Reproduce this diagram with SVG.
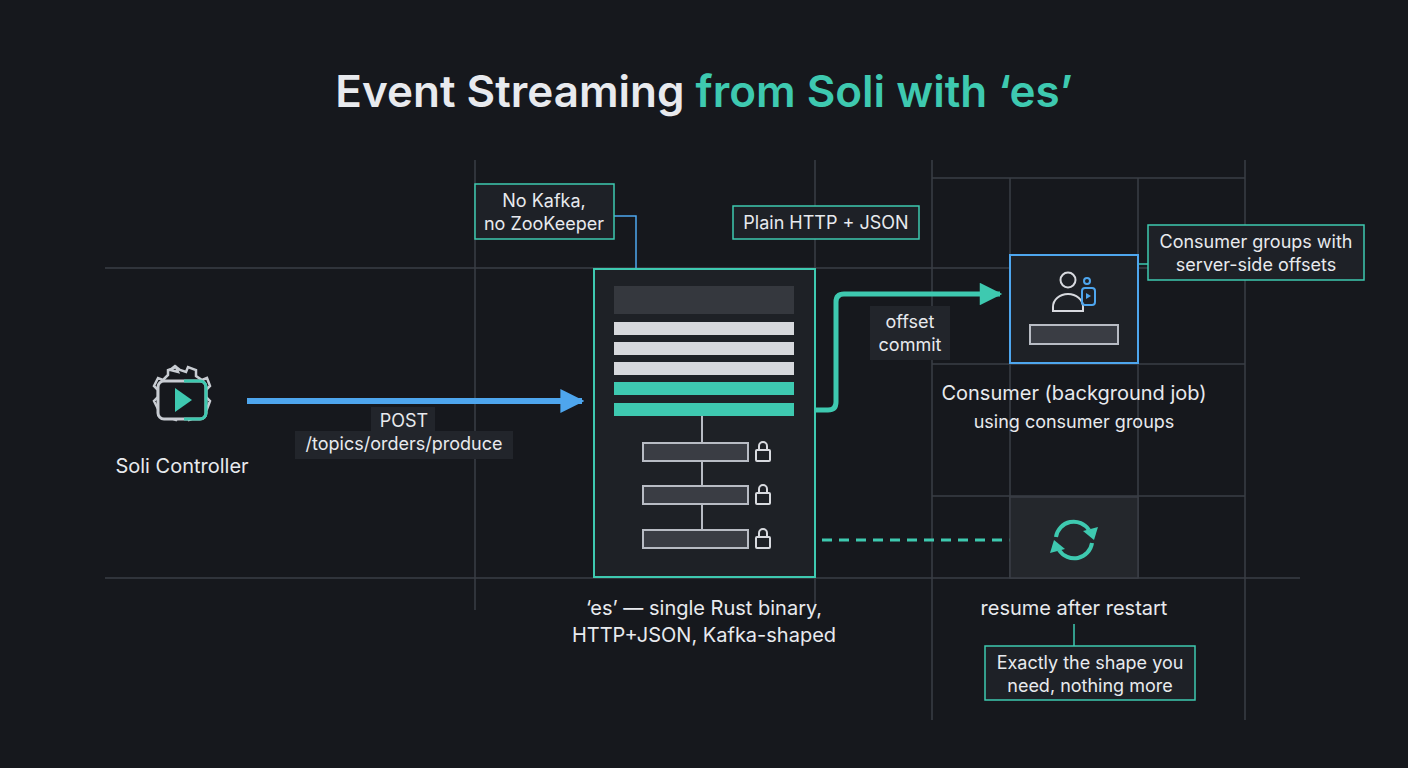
<svg xmlns="http://www.w3.org/2000/svg" width="1408" height="768" viewBox="0 0 1408 768">
<defs>
<style>
text{font-family:Inter,"Noto Sans","Liberation Sans",sans-serif;fill:#e8eaee}
.grid{stroke:#3a3e46;stroke-width:1.5;fill:none}
.lbl{fill:#1e2127;stroke:#3ec9b0;stroke-width:1.5}
.bar{fill:#3a3d44;stroke:#b8bcc4;stroke-width:2}
.lock{fill:none;stroke:#d8dadf;stroke-width:2}
</style>
<marker id="ab" viewBox="0 0 10 10" refX="9" refY="5" markerWidth="4" markerHeight="4" orient="auto" markerUnits="strokeWidth"><path d="M0,0L10,5L0,10z" fill="#4ea6ee"/></marker>
<marker id="at" viewBox="0 0 10 10" refX="9" refY="5" markerWidth="5" markerHeight="4.5" orient="auto" markerUnits="strokeWidth"><path d="M0,0L10,5L0,10z" fill="#3ec9b0"/></marker>
</defs>
<rect width="1408" height="768" fill="#16181d"/>
<g id="grid">
<path class="grid" d="M105 268H1300M105 578H1300M932 178H1245M932 364H1245M932 496H1245M475 160V610M815 160V610M932 160V720M1010 178V578M1138 178V578M1245 160V720"/>
</g>
<text x="704" y="107" text-anchor="middle" font-size="44" font-weight="600"><tspan>Event Streaming </tspan><tspan fill="#3ec9b0" style="fill:#3ec9b0">from Soli with ‘es’</tspan></text>
<g id="connectors">
<line x1="247" y1="401" x2="582" y2="401" stroke="#4ea6ee" stroke-width="6" marker-end="url(#ab)"/>
<path d="M816 410H828Q836 410 836 402V302Q836 294 844 294H1000" fill="none" stroke="#3ec9b0" stroke-width="5" marker-end="url(#at)"/>
<line x1="822" y1="540" x2="1016" y2="540" stroke="#3ec9b0" stroke-width="3" stroke-dasharray="10 7"/>
<path d="M614 216H636V268" fill="none" stroke="#4ea6ee" stroke-width="1.5"/>
<line x1="1138" y1="264" x2="1148" y2="264" stroke="#3ec9b0" stroke-width="1.5"/>
<line x1="1074" y1="624" x2="1074" y2="646" stroke="#3ec9b0" stroke-width="1.5"/>
</g>
<g id="controller">
<path d="M170 368l5-4 5 4 6 2 2-5 8 3 0 6 6 4 5-2 3 8-4 4 0 7 4 4-3 8-5-2-5 5 0 5-8 3-3-5-6 0-4 5-8-3 0-5-5-5-5 2-4-8 4-4 0-7-4-4 4-8 5 2 5-5 0-5 8-3 2 5z" fill="none" stroke="#c8ccd2" stroke-width="2.5" transform="translate(0,2)"/>
<rect x="158" y="381" width="48" height="38" rx="6" fill="#16181d" stroke="#c8ccd2" stroke-width="3"/>
<path d="M184 381h16a6 6 0 0 1 6 6v26a6 6 0 0 1-6 6h-16" fill="none" stroke="#3ec9b0" stroke-width="3"/>
<path d="M175 388l17 12-17 12z" fill="#3ec9b0"/>
<text x="182" y="473" text-anchor="middle" font-size="20">Soli Controller</text>
</g>
<g id="post-label">
<rect x="371" y="407" width="64" height="24" fill="#22252b"/>
<rect x="295" y="431" width="218" height="28" fill="#22252b"/>
<text x="404" y="427" text-anchor="middle" font-size="18">POST</text>
<text x="404" y="450" text-anchor="middle" font-size="18">/topics/orders/produce</text>
</g>
<g id="es">
<rect x="594" y="269" width="221" height="308" fill="#1e2126" stroke="#3ec9b0" stroke-width="2"/>
<rect x="614" y="286" width="180" height="28" fill="#35383e"/>
<rect x="614" y="322" width="180" height="13" fill="#d6d8dc"/>
<rect x="614" y="342" width="180" height="13" fill="#d6d8dc"/>
<rect x="614" y="362" width="180" height="13" fill="#d6d8dc"/>
<rect x="614" y="382" width="180" height="13" fill="#3ec9b0"/>
<rect x="614" y="403" width="180" height="13" fill="#3ec9b0"/>
<path d="M702 416V530" stroke="#b8bcc4" stroke-width="2"/>
<rect class="bar" x="643" y="443" width="105" height="18"/>
<rect class="bar" x="643" y="486" width="105" height="18"/>
<rect class="bar" x="643" y="530" width="105" height="18"/>
<g class="lock"><rect x="756" y="450" width="14" height="11" rx="1"/><path d="M759 450v-4a4 4 0 0 1 8 0v4"/><rect x="756" y="493" width="14" height="11" rx="1"/><path d="M759 493v-4a4 4 0 0 1 8 0v4"/><rect x="756" y="537" width="14" height="11" rx="1"/><path d="M759 537v-4a4 4 0 0 1 8 0v4"/></g>
<text x="704" y="615" text-anchor="middle" font-size="20">‘es’ — single Rust binary,</text>
<text x="704" y="642" text-anchor="middle" font-size="20">HTTP+JSON, Kafka-shaped</text>
</g>
<g id="note-kafka">
<rect class="lbl" x="475" y="184" width="139" height="55"/>
<text x="544" y="207" text-anchor="middle" font-size="18">No Kafka,</text>
<text x="544" y="230" text-anchor="middle" font-size="18">no ZooKeeper</text>
</g>
<g id="note-http">
<rect class="lbl" x="733" y="206" width="186" height="33"/>
<text x="826" y="229" text-anchor="middle" font-size="18">Plain HTTP + JSON</text>
</g>
<g id="offset-label">
<rect x="870" y="306" width="80" height="54" fill="#22252b"/>
<text x="910" y="328" text-anchor="middle" font-size="18">offset</text>
<text x="910" y="351" text-anchor="middle" font-size="18">commit</text>
</g>
<g id="consumer">
<rect x="1010" y="255" width="128" height="108" fill="#1e2126" stroke="#4ea6ee" stroke-width="2"/>
<circle cx="1068" cy="280" r="7.5" fill="none" stroke="#d8dadf" stroke-width="2"/>
<path d="M1053 311v-4a15 13 0 0 1 30 0v4z" fill="none" stroke="#d8dadf" stroke-width="2"/>
<circle cx="1087" cy="281" r="3" fill="none" stroke="#4ea6ee" stroke-width="2"/>
<rect x="1082" y="288" width="13" height="17" rx="3" fill="none" stroke="#4ea6ee" stroke-width="2"/>
<path d="M1086 293l5 3-5 3z" fill="#4ea6ee"/>
<rect x="1030" y="325" width="88" height="19" fill="#3a3d44" stroke="#b8bcc4" stroke-width="2"/>
<text x="1074" y="400" text-anchor="middle" font-size="20">Consumer (background job)</text>
<text x="1074" y="428" text-anchor="middle" font-size="18">using consumer groups</text>
</g>
<g id="note-groups">
<rect class="lbl" x="1148" y="225" width="216" height="55"/>
<text x="1256" y="248" text-anchor="middle" font-size="18">Consumer groups with</text>
<text x="1256" y="271" text-anchor="middle" font-size="18">server-side offsets</text>
</g>
<g id="resume">
<rect x="1010" y="497" width="128" height="81" fill="#24272c" stroke="#3a3e46" stroke-width="1.5"/>
<path d="M1056 537a18 18 0 0 1 33-7" fill="none" stroke="#3ec9b0" stroke-width="4"/>
<path d="M1092 543a18 18 0 0 1-33 7" fill="none" stroke="#3ec9b0" stroke-width="4"/>
<path d="M1083 531l15-4-4 13z" fill="#3ec9b0"/>
<path d="M1065 549l-15 4 4-13z" fill="#3ec9b0"/>
<text x="1074" y="615" text-anchor="middle" font-size="20">resume after restart</text>
</g>
<g id="note-shape">
<rect class="lbl" x="985" y="646" width="210" height="54"/>
<text x="1090" y="669" text-anchor="middle" font-size="18">Exactly the shape you</text>
<text x="1090" y="692" text-anchor="middle" font-size="18">need, nothing more</text>
</g>
</svg>
